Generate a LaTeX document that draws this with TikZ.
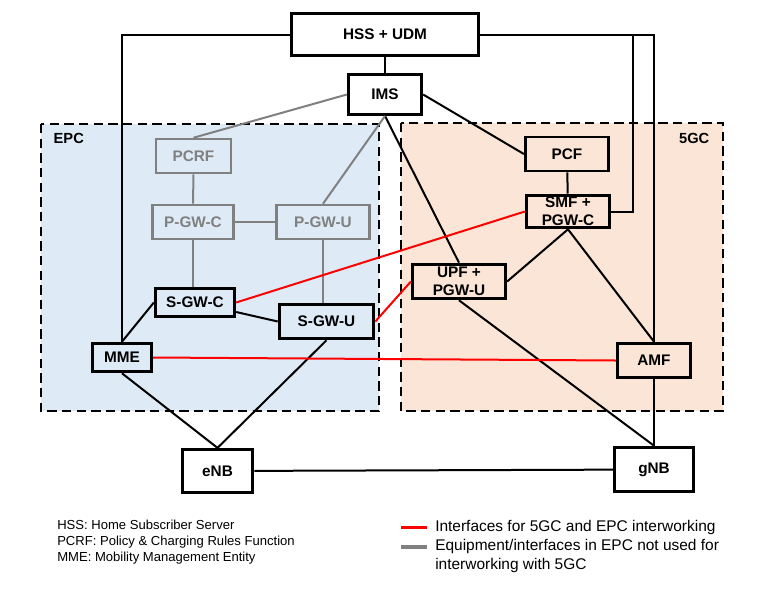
\documentclass[tikz,border=0pt]{standalone}
\usepackage{fontspec}
\setmainfont{Liberation Sans}
\definecolor{epcfill}{RGB}{222,235,247}
\definecolor{ngcfill}{RGB}{251,229,214}
\definecolor{offgray}{RGB}{128,128,128}

\begin{document}
\begin{tikzpicture}[x=0.75pt,y=-0.75pt,
    box/.style={draw,line width=2.2pt,fill=white,align=center,inner sep=0pt,
        font=\fontsize{11.5}{13.5}\selectfont\bfseries},
    gbox/.style={box,draw=offgray,text=offgray,line width=1.9pt,fill=epcfill},
    link/.style={line width=1.5pt},
    glink/.style={link,draw=offgray},
    rlink/.style={link,draw=red},
    region/.style={line width=2.2pt,dash pattern=on 7pt off 4pt}]
    \useasboundingbox (0,0) rectangle (764,590);

    % EPC and 5GC areas
    \draw[region,fill=epcfill] (41,124) rectangle (379,411);
    \draw[region,fill=ngcfill] (401,123) rectangle (723,411);
    \node[anchor=west,font=\fontsize{11}{12}\selectfont\bfseries] (epclbl) at (49,138) {EPC};
    \node[anchor=east,font=\fontsize{11}{12}\selectfont\bfseries] (ngclbl) at (714,138) {5GC};

    % common nodes
    \node[box,minimum width=140pt,minimum height=32pt] (hss) at (385,34.5) {HSS + UDM};
    \node[box,minimum width=55pt,minimum height=30pt] (ims) at (385,94.5) {IMS};
    \node[box,minimum width=53pt,minimum height=32.5pt] (enb) at (217.5,471) {eNB};
    \node[box,minimum width=59.5pt,minimum height=33.5pt] (gnb) at (654,469.5) {gNB};

    % EPC nodes
    \node[gbox,minimum width=56pt,minimum height=25.5pt] (pcrf) at (193.5,156) {PCRF};
    \node[gbox,minimum width=61pt,minimum height=25.5pt] (pgwc) at (193,222) {P-GW-C};
    \node[gbox,minimum width=70pt,minimum height=25.5pt] (pgwu) at (323,222) {P-GW-U};
    \node[box,fill=epcfill,minimum width=59.5pt,minimum height=21.5pt] (sgwc) at (195,302.5) {S-GW-C};
    \node[box,fill=epcfill,minimum width=71pt,minimum height=26pt] (sgwu) at (326.5,321.5) {S-GW-U};
    \node[box,fill=epcfill,minimum width=44.5pt,minimum height=21.5pt] (mme) at (122,357.5) {MME};

    % 5GC nodes
    \node[box,fill=ngcfill,minimum width=62.5pt,minimum height=25.5pt] (pcf) at (567,154) {PCF};
    \node[box,fill=ngcfill,minimum width=62.5pt,minimum height=24.5pt] (smf) at (568,211.5) {SMF +\\PGW-C};
    \node[box,fill=ngcfill,minimum width=70pt,minimum height=26pt] (upf) at (459,281.5) {UPF +\\PGW-U};
    \node[box,fill=ngcfill,minimum width=55pt,minimum height=26pt] (amf) at (654,360.5) {AMF};
    \coordinate (hsstap) at (633,34.5);

    % links
    \draw[link] (hss) -- (ims);
    \draw[link] (hss.west) -| (mme.north);
    \draw[link] (hss.east) -| (amf.north);
    \draw[link] (smf.east) -| (hsstap);
    \draw[link] (ims.south) -- (upf.north);
    \draw[link] (ims.east) -- (pcf.west);
    \draw[glink] (ims.west) -- (pcrf.north);
    \draw[glink] (ims.south) -- (pgwu.north);
    \draw[glink] (pcrf) -- (pgwc);
    \draw[glink] (pgwc) -- (pgwu);
    \draw[glink] (pgwc.south) -- (pgwc.south |- sgwc.north);
    \draw[glink] (pgwu.south) -- (pgwu.south |- sgwu.north);
    \draw[link] (sgwc.-13) -- (sgwu.west);
    \draw[link] (sgwc.west) -- (mme.north);
    \draw[link] (sgwu.south) -- (enb.north);
    \draw[link] (mme.south) -- (enb.north);
    \draw[link] (pcf) -- (smf);
    \draw[link] (smf.south) -- (upf.east);
    \draw[link] (smf.south) -- (amf.north);
    \draw[link] (upf.south) -- (gnb.north);
    \draw[link] (amf) -- (gnb);
    \draw[link] (enb) -- (gnb);
    \draw[rlink] (sgwc.east) -- (smf.west);
    \draw[rlink] (sgwu.east) -- (upf.west);
    \draw[rlink] (mme.east) -- (amf.west);

    % legend
    \node[anchor=north west,align=left,inner sep=0pt,font=\fontsize{9.8}{12}\selectfont] (abbr) at (57,520)
        {HSS: Home Subscriber Server\\PCRF: Policy \& Charging Rules Function\\MME: Mobility Management Entity};
    \node[anchor=north west,align=left,inner sep=0pt,font=\fontsize{11.6}{14.25}\selectfont] (legred) at (435,520)
        {Interfaces for 5GC and EPC interworking};
    \node[anchor=north west,align=left,inner sep=0pt,font=\fontsize{11.6}{14.25}\selectfont] (leggray) at (435,539)
        {Equipment/interfaces in EPC not used for\\interworking with 5GC};
    \draw[red,line width=2.3pt] (legred.west) ++(-8,0) -- ++(-26,0);
    \draw[offgray,line width=2.3pt] (leggray.north west) ++(-8,8) -- ++(-26,0);
\end{tikzpicture}
\end{document}
